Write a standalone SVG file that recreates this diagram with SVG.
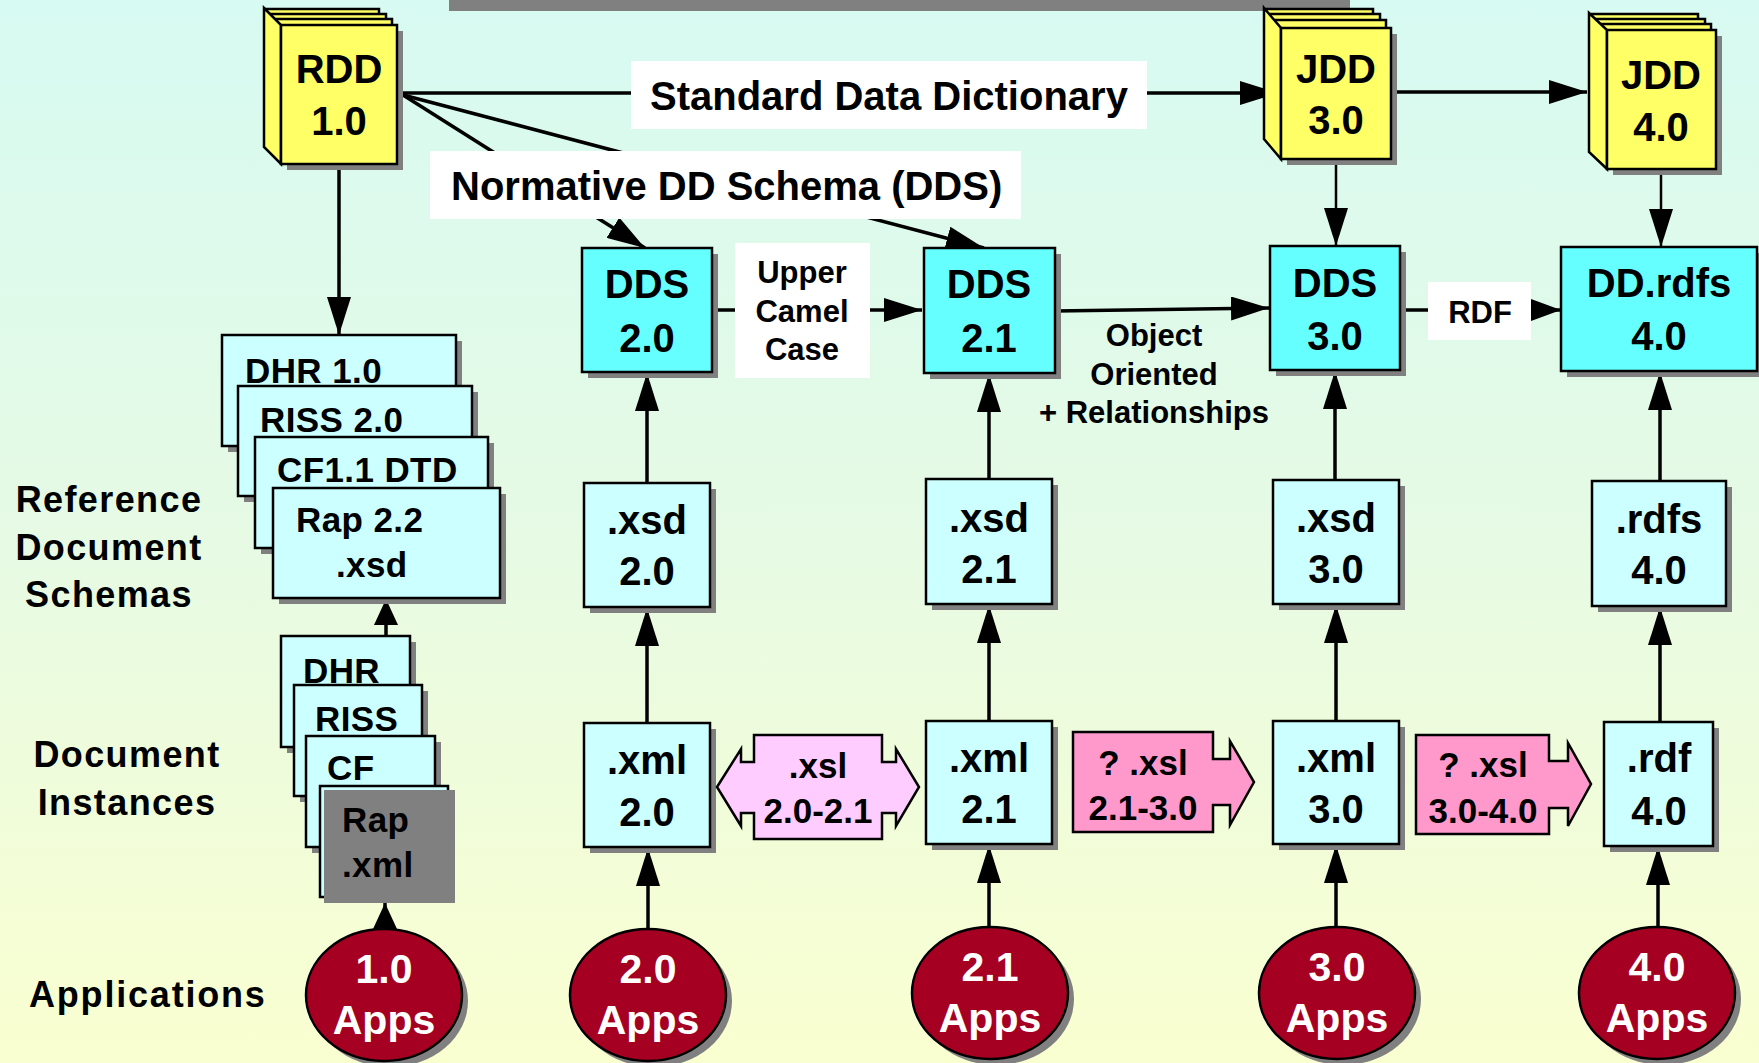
<svg xmlns="http://www.w3.org/2000/svg" width="1759" height="1063" viewBox="0 0 1759 1063">
<defs>
<linearGradient id="bg" x1="0" y1="0" x2="0" y2="1">
<stop offset="0" stop-color="#D7FAF2"/>
<stop offset="0.5" stop-color="#E6FAE4"/>
<stop offset="1" stop-color="#FAFFD0"/>
</linearGradient>
<marker id="ah" markerUnits="userSpaceOnUse" markerWidth="38" markerHeight="24" refX="38" refY="12" orient="auto" viewBox="0 0 38 24"><path d="M0,0 L38,12 L0,24 z" fill="#000"/></marker>
<marker id="am" markerUnits="userSpaceOnUse" markerWidth="30" markerHeight="22" refX="30" refY="11" orient="auto" viewBox="0 0 30 22"><path d="M0,0 L30,11 L0,22 z" fill="#000"/></marker>
<marker id="as" markerUnits="userSpaceOnUse" markerWidth="26" markerHeight="24" refX="26" refY="12" orient="auto" viewBox="0 0 26 24"><path d="M0,0 L26,12 L0,24 z" fill="#000"/></marker>
</defs>
<style>
text{font-family:"Liberation Sans",Arial,Helvetica,sans-serif;font-weight:bold;fill:#000}
.c{text-anchor:middle}
.f40{font-size:40px}
.f35{font-size:35px}
.f31{font-size:31px}
.lb{font-size:36px;letter-spacing:1.4px}
.bt{font-size:35px;letter-spacing:0.4px}
.wt{fill:#fff;font-size:41px}
.sh{fill:#808080}
.lc{fill:#CCFFFF;stroke:#000;stroke-width:2.5}
.dc{fill:#66FFFF;stroke:#000;stroke-width:2.5}
.yl{fill:#FFFF66;stroke:#000;stroke-width:2.5}
.ap{fill:#A50021;stroke:#000;stroke-width:2.5}
.pk{fill:#FF99CC;stroke:#000;stroke-width:2.5}
.lp{fill:#FFCCFF;stroke:#000;stroke-width:2.5}
.wb{fill:#fff}
.ln{fill:none;stroke:#000;stroke-width:3.5}
.lt{fill:none;stroke:#000;stroke-width:2.5}
</style>
<rect x="0" y="0" width="1759" height="1063" fill="url(#bg)"/>
<rect x="449" y="0" width="901" height="11" fill="#808080"/>

<!-- side labels -->
<g id="label-refschemas">
<text class="lb c" x="109" y="512">Reference</text>
<text class="lb c" x="109" y="560">Document</text>
<text class="lb c" x="109" y="607">Schemas</text>
</g>
<g id="label-docinst">
<text class="lb c" x="127" y="767">Document</text>
<text class="lb c" x="127" y="815">Instances</text>
</g>
<g id="label-apps">
<text class="lb" x="29" y="1007" style="letter-spacing:1.8px">Applications</text>
</g>

<!-- connectors -->
<g id="connectors">
<path class="ln" d="M339,164 V335" marker-end="url(#ah)"/>
<path class="ln" d="M403,93 H1278" marker-end="url(#ah)"/>
<path class="ln" d="M403,95 L645,248" marker-end="url(#ah)"/>
<path class="ln" d="M403,95 L984,248" marker-end="url(#ah)"/>
<path class="ln" d="M1397,92 H1587" marker-end="url(#ah)"/>
<path class="lt" d="M1336,160 V246" marker-end="url(#ah)"/>
<path class="lt" d="M1661,170 V247" marker-end="url(#ah)"/>
<path class="ln" d="M712,310 H922" marker-end="url(#ah)"/>
<path class="ln" d="M1055,311 L1269,308" marker-end="url(#ah)"/>
<path class="ln" d="M1400,310 H1561" marker-end="url(#am)"/>
<path class="ln" d="M647,483 V373" marker-end="url(#ah)"/>
<path class="ln" d="M989,479 V374" marker-end="url(#ah)"/>
<path class="ln" d="M1335,480 V371" marker-end="url(#ah)"/>
<path class="ln" d="M1660,481 V372" marker-end="url(#ah)"/>
<path class="ln" d="M647,723 V608" marker-end="url(#ah)"/>
<path class="ln" d="M989,721 V605" marker-end="url(#ah)"/>
<path class="ln" d="M1336,721 V605" marker-end="url(#ah)"/>
<path class="ln" d="M1660,722 V607" marker-end="url(#ah)"/>
<path class="ln" d="M648,929 V848" marker-end="url(#ah)"/>
<path class="ln" d="M989,927 V845" marker-end="url(#ah)"/>
<path class="ln" d="M1336,927 V845" marker-end="url(#ah)"/>
<path class="ln" d="M1658,927 V847" marker-end="url(#ah)"/>
<path class="ln" d="M386,636 V599" marker-end="url(#as)"/>
<path class="ln" d="M385,929 V903" marker-end="url(#as)"/>
</g>

<!-- books -->
<g id="rdd" transform="translate(281,25)">
<rect class="sh" x="6" y="6" width="116" height="139"/>
<rect class="yl" x="-15" y="-16" width="113" height="120"/>
<rect class="yl" x="-11" y="-11" width="116" height="120"/>
<rect class="yl" x="-6" y="-6" width="117" height="120"/>
<polygon class="yl" points="-17,-17 0,0 0,139 -17,122"/>
<rect class="yl" x="0" y="0" width="116" height="139"/>
<text class="c f40" x="58" y="58">RDD</text>
<text class="c f40" x="58" y="110">1.0</text>
</g>
<g id="jdd3" transform="translate(1281,28)">
<rect class="sh" x="6" y="6" width="110" height="131"/>
<rect class="yl" x="-15" y="-19" width="107" height="115"/>
<rect class="yl" x="-11" y="-14" width="110" height="115"/>
<rect class="yl" x="-6" y="-8" width="111" height="115"/>
<polygon class="yl" points="-17,-20 0,0 0,131 -17,111"/>
<rect class="yl" x="0" y="0" width="110" height="131"/>
<text class="c f40" x="55" y="55">JDD</text>
<text class="c f40" x="55" y="106">3.0</text>
</g>
<g id="jdd4" transform="translate(1607,30)">
<rect class="sh" x="6" y="6" width="109" height="139"/>
<rect class="yl" x="-15" y="-16" width="106" height="120"/>
<rect class="yl" x="-11" y="-11" width="109" height="120"/>
<rect class="yl" x="-6" y="-6" width="110" height="120"/>
<polygon class="yl" points="-18,-17 0,0 0,139 -18,122"/>
<rect class="yl" x="0" y="0" width="109" height="139"/>
<text class="c f40" x="54" y="59">JDD</text>
<text class="c f40" x="54" y="111">4.0</text>
</g>

<!-- DDS row -->
<g id="dds20"><rect class="sh" x="588" y="254" width="130" height="124"/><rect class="dc" x="582" y="248" width="130" height="124"/>
<text class="c f40" x="647" y="298">DDS</text><text class="c f40" x="647" y="352">2.0</text></g>
<g id="dds21"><rect class="sh" x="930" y="254" width="131" height="125"/><rect class="dc" x="924" y="248" width="131" height="125"/>
<text class="c f40" x="989" y="298">DDS</text><text class="c f40" x="989" y="352">2.1</text></g>
<g id="dds30"><rect class="sh" x="1276" y="252" width="130" height="124"/><rect class="dc" x="1270" y="246" width="130" height="124"/>
<text class="c f40" x="1335" y="297">DDS</text><text class="c f40" x="1335" y="350">3.0</text></g>
<g id="ddrdfs40"><rect class="sh" x="1567" y="253" width="196" height="124"/><rect class="dc" x="1561" y="247" width="196" height="124"/>
<text class="c f40" x="1659" y="297">DD.rdfs</text><text class="c f40" x="1659" y="350">4.0</text></g>

<!-- xsd row -->
<g id="xsd20"><rect class="sh" x="590" y="489" width="126" height="124"/><rect class="lc" x="584" y="483" width="126" height="124"/>
<text class="c f40" x="647" y="534">.xsd</text><text class="c f40" x="647" y="585">2.0</text></g>
<g id="xsd21"><rect class="sh" x="932" y="485" width="126" height="125"/><rect class="lc" x="926" y="479" width="126" height="125"/>
<text class="c f40" x="989" y="532">.xsd</text><text class="c f40" x="989" y="583">2.1</text></g>
<g id="xsd30"><rect class="sh" x="1279" y="486" width="126" height="124"/><rect class="lc" x="1273" y="480" width="126" height="124"/>
<text class="c f40" x="1336" y="532">.xsd</text><text class="c f40" x="1336" y="583">3.0</text></g>
<g id="rdfs40"><rect class="sh" x="1598" y="487" width="134" height="125"/><rect class="lc" x="1592" y="481" width="134" height="125"/>
<text class="c f40" x="1659" y="533">.rdfs</text><text class="c f40" x="1659" y="584">4.0</text></g>

<!-- xml row -->
<g id="xml20"><rect class="sh" x="590" y="729" width="126" height="124"/><rect class="lc" x="584" y="723" width="126" height="124"/>
<text class="c f40" x="647" y="774">.xml</text><text class="c f40" x="647" y="826">2.0</text></g>
<g id="xml21"><rect class="sh" x="932" y="727" width="126" height="123"/><rect class="lc" x="926" y="721" width="126" height="123"/>
<text class="c f40" x="989" y="772">.xml</text><text class="c f40" x="989" y="823">2.1</text></g>
<g id="xml30"><rect class="sh" x="1279" y="727" width="126" height="123"/><rect class="lc" x="1273" y="721" width="126" height="123"/>
<text class="c f40" x="1336" y="772">.xml</text><text class="c f40" x="1336" y="823">3.0</text></g>
<g id="rdf40"><rect class="sh" x="1610" y="728" width="109" height="124"/><rect class="lc" x="1604" y="722" width="109" height="124"/>
<text class="c f40" x="1659" y="772">.rdf</text><text class="c f40" x="1659" y="825">4.0</text></g>

<!-- xsl callouts -->
<g id="xsl2021">
<polygon class="lp" points="717,787 741,749 741,762 754,762 754,735 882,735 882,762 896,762 896,749 919,787 896,826 896,813 882,813 882,839 754,839 754,813 741,813 741,826"/>
<text class="c f35" x="818" y="778">.xsl</text><text class="c f35" x="818" y="823">2.0-2.1</text></g>
<g id="xsl2130">
<polygon class="pk" points="1073,732 1213,732 1213,759 1230,759 1230,741 1254,782 1230,825 1230,805 1213,805 1213,832 1073,832"/>
<text class="c f35" x="1143" y="775">? .xsl</text><text class="c f35" x="1143" y="820">2.1-3.0</text></g>
<g id="xsl3040">
<polygon class="pk" points="1416,735 1549,735 1549,761 1568,761 1568,743 1591,784 1568,826 1568,808 1549,808 1549,834 1416,834"/>
<text class="c f35" x="1483" y="777">? .xsl</text><text class="c f35" x="1483" y="823">3.0-4.0</text></g>

<!-- reference document schemas -->
<g id="dhr10"><rect class="sh" x="228" y="341" width="234" height="111"/><rect class="lc" x="222" y="335" width="234" height="111"/>
<text class="bt" x="245" y="383">DHR 1.0</text></g>
<g id="riss20"><rect class="sh" x="244" y="392" width="234" height="110"/><rect class="lc" x="238" y="386" width="234" height="110"/>
<text class="bt" x="260" y="432">RISS 2.0</text></g>
<g id="cf11dtd"><rect class="sh" x="261" y="443" width="233" height="111"/><rect class="lc" x="255" y="437" width="233" height="111"/>
<text class="bt" x="277" y="482">CF1.1 DTD</text></g>
<g id="rap22xsd"><rect class="sh" x="279" y="494" width="227" height="110"/><rect class="lc" x="273" y="488" width="227" height="110"/>
<text class="bt" x="296" y="532">Rap 2.2</text><text class="bt" x="336" y="577">.xsd</text></g>

<!-- document instances -->
<g id="dhr"><rect class="sh" x="287" y="642" width="129" height="111"/><rect class="lc" x="281" y="636" width="129" height="111"/>
<text class="bt" x="303" y="683">DHR</text></g>
<g id="riss"><rect class="sh" x="300" y="691" width="128" height="111"/><rect class="lc" x="294" y="685" width="128" height="111"/>
<text class="bt" x="315" y="731">RISS</text></g>
<g id="cf"><rect class="sh" x="312" y="742" width="129" height="111"/><rect class="lc" x="306" y="736" width="129" height="111"/>
<text class="bt" x="327" y="780">CF</text></g>
<g id="rapxml"><rect class="lc" x="320" y="786" width="128" height="111"/><rect fill="#808080" x="324" y="790" width="131" height="113"/>
<text class="bt" x="342" y="832">Rap</text><text class="bt" x="342" y="877">.xml</text></g>

<!-- applications -->
<g id="apps10"><ellipse class="sh" cx="390" cy="1001" rx="78" ry="66"/><ellipse class="ap" cx="384" cy="995" rx="78" ry="66"/>
<text class="wt c" x="384" y="983">1.0</text><text class="wt c" x="384" y="1034">Apps</text></g>
<g id="apps20"><ellipse class="sh" cx="654" cy="1001" rx="78" ry="66"/><ellipse class="ap" cx="648" cy="995" rx="78" ry="66"/>
<text class="wt c" x="648" y="983">2.0</text><text class="wt c" x="648" y="1034">Apps</text></g>
<g id="apps21"><ellipse class="sh" cx="996" cy="999" rx="78" ry="66"/><ellipse class="ap" cx="990" cy="993" rx="78" ry="66"/>
<text class="wt c" x="990" y="981">2.1</text><text class="wt c" x="990" y="1032">Apps</text></g>
<g id="apps30"><ellipse class="sh" cx="1343" cy="999" rx="78" ry="66"/><ellipse class="ap" cx="1337" cy="993" rx="78" ry="66"/>
<text class="wt c" x="1337" y="981">3.0</text><text class="wt c" x="1337" y="1032">Apps</text></g>
<g id="apps40"><ellipse class="sh" cx="1663" cy="999" rx="78" ry="66"/><ellipse class="ap" cx="1657" cy="993" rx="78" ry="66"/>
<text class="wt c" x="1657" y="981">4.0</text><text class="wt c" x="1657" y="1032">Apps</text></g>

<!-- edge labels -->
<g id="label-sdd"><rect class="wb" x="631" y="61" width="516" height="68"/>
<text class="f40" x="650" y="110">Standard Data Dictionary</text></g>
<g id="label-dds"><rect class="wb" x="430" y="151" width="591" height="68"/>
<text class="f40" x="451" y="200">Normative DD Schema (DDS)</text></g>
<g id="label-ucc"><rect class="wb" x="735" y="243" width="135" height="135"/>
<text class="f31 c" x="802" y="283">Upper</text><text class="f31 c" x="802" y="322">Camel</text><text class="f31 c" x="802" y="360">Case</text></g>
<g id="label-oo">
<text class="f31 c" x="1154" y="346">Object</text><text class="f31 c" x="1154" y="385">Oriented</text><text class="f31 c" x="1154" y="423">+ Relationships</text></g>
<g id="label-rdf"><rect class="wb" x="1428" y="282" width="103" height="58"/>
<text class="f31 c" x="1480" y="323">RDF</text></g>
</svg>
